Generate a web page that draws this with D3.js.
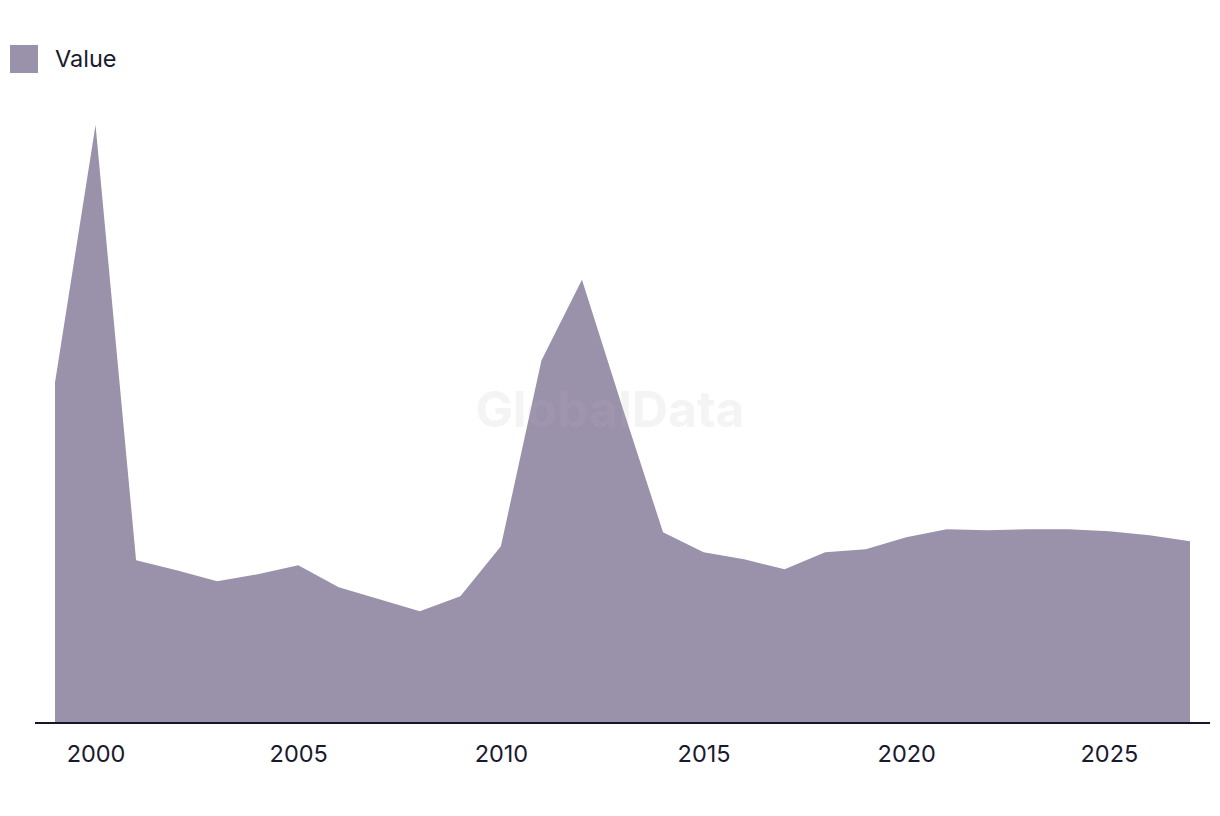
<!DOCTYPE html>
<html>
<head>
<meta charset="utf-8">
<script src="https://cdn.jsdelivr.net/npm/d3@7"></script>
<style>
  html, body { margin: 0; padding: 0; background: #ffffff; }
  svg { display: block; }
  text { font-family: Inter, "Noto Sans", sans-serif; }
</style>
</head>
<body>
<svg id="chart" width="1220" height="816"></svg>
<script>
const years = [1999,2000,2001,2002,2003,2004,2005,2006,2007,2008,2009,2010,2011,2012,2013,2014,2015,2016,2017,2018,2019,2020,2021,2022,2023,2024,2025,2026,2027];
const values = [341,599,163,153,142,149,158,136,124,112,127,177,363,444,316,191,171,164,154,171,174,186,194,193,194,194,192,188,182];
const tickYears = [2000,2005,2010,2015,2020,2025];
const seriesName = "Value";

const svg = d3.select("#chart");
const x = d3.scaleLinear().domain([1999, 2027]).range([55, 1190]);
const y = d3.scaleLinear().domain([0, 600]).range([723, 124]);

// watermark (behind)
svg.append("text")
  .attr("x", 610).attr("y", 427)
  .attr("text-anchor", "middle")
  .attr("font-size", 50).attr("font-weight", 700)
  .attr("fill", "#f4f4f4")
  .text("GlobalData");

const data = years.map((yr, i) => ({ yr, v: values[i] }));
const area = d3.area().x(d => x(d.yr)).y0(y(0)).y1(d => y(d.v));
svg.append("path").datum(data)
  .attr("d", area)
  .attr("fill", "#9a91aa");

// watermark overlay (faint over area)
svg.append("text")
  .attr("x", 610).attr("y", 427)
  .attr("text-anchor", "middle")
  .attr("font-size", 50).attr("font-weight", 700)
  .attr("fill", "#ffffff").attr("fill-opacity", 0.05)
  .text("GlobalData");

// x axis
const axis = d3.axisBottom(x).tickValues(tickYears).tickFormat(d3.format("d")).tickSize(0).tickPadding(22);
const gx = svg.append("g").attr("transform", `translate(0,${y(0)})`).call(axis);
gx.select(".domain").remove();
gx.selectAll("text").attr("font-size", 23.5).attr("fill", "#1a1a2e").style("font-family", "Inter, 'Noto Sans', sans-serif");
svg.append("line")
  .attr("x1", 35).attr("x2", 1210)
  .attr("y1", y(0)).attr("y2", y(0))
  .attr("stroke", "#16162a").attr("stroke-width", 2);

// legend
const lg = svg.append("g");
lg.append("rect").attr("x", 10).attr("y", 45).attr("width", 28).attr("height", 28).attr("fill", "#9a91aa");
lg.append("text").attr("x", 55).attr("y", 67).attr("font-size", 23.5).attr("fill", "#1a1a2e").text(seriesName);
</script>
</body>
</html>
